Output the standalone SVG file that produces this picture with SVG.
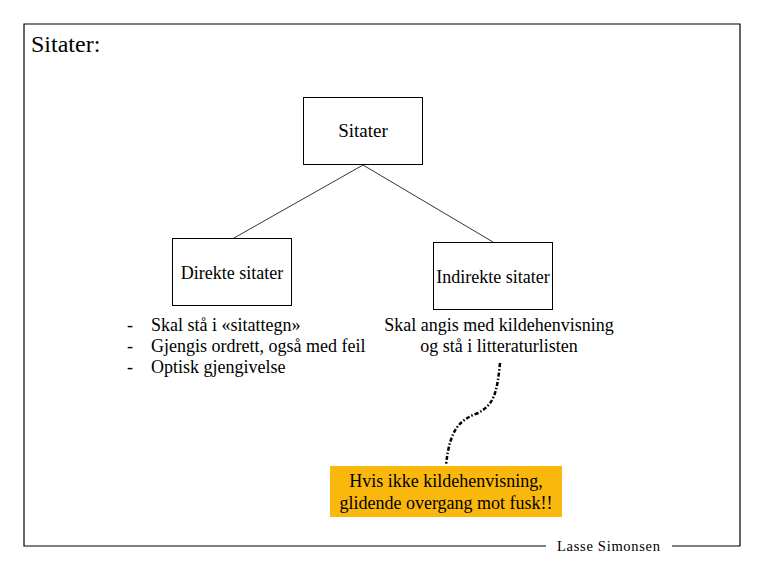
<svg xmlns="http://www.w3.org/2000/svg" width="765" height="570" viewBox="0 0 765 570">
<style>
text{font-family:'Liberation Serif','DejaVu Serif',serif;fill:#000}
.box{fill:#fff;stroke:#000;stroke-width:1}
.t{font-size:18px}
.c{text-anchor:middle}
</style>
<rect width="765" height="570" fill="#fff"/>
<g id="frame" fill="none" stroke="#000" stroke-width="1.2">
<path d="M546,546 H24 V24 H740 V546 H672"/>
</g>
<text x="31" y="52" font-size="24">Sitater:</text>
<g id="connectors" fill="none" stroke="#000">
<line x1="363" y1="165" x2="234" y2="238" stroke-width="0.8"/>
<line x1="363" y1="165" x2="493" y2="242" stroke-width="0.8"/>
<path d="M500,363 C497,395 493,405 478,413 C460,420 450,428 446,465" stroke-width="2.5" stroke-dasharray="4 2 1.5 2"/>
</g>
<g id="sitater">
<rect class="box" x="303.5" y="97.5" width="119" height="67"/>
<text class="c" x="363" y="137" font-size="19">Sitater</text>
</g>
<g id="direkte">
<rect class="box" x="172.5" y="238.5" width="119" height="67"/>
<text class="c t" x="232" y="279">Direkte sitater</text>
</g>
<g id="indirekte">
<rect class="box" x="433.5" y="242.5" width="119" height="67"/>
<text class="c t" x="493" y="283">Indirekte sitater</text>
</g>
<g id="direkte-list" class="t">
<text x="127" y="331">-</text><text x="151" y="331">Skal stå i «sitattegn»</text>
<text x="127" y="352">-</text><text x="151" y="352">Gjengis ordrett, også med feil</text>
<text x="127" y="373">-</text><text x="151" y="373">Optisk gjengivelse</text>
</g>
<g id="indirekte-note">
<text class="c t" x="499" y="331">Skal angis med kildehenvisning</text>
<text class="c t" x="499" y="352">og stå i litteraturlisten</text>
</g>
<g id="fusk">
<rect x="330" y="466" width="232" height="51" fill="#FBB80C"/>
<text class="c t" x="446" y="487" fill="#1a1000">Hvis ikke kildehenvisning,</text>
<text class="c t" x="446" y="509" fill="#1a1000">glidende overgang mot fusk!!</text>
</g>
<text x="557" y="551" font-size="14.5" textLength="103" lengthAdjust="spacing">Lasse Simonsen</text>
</svg>
